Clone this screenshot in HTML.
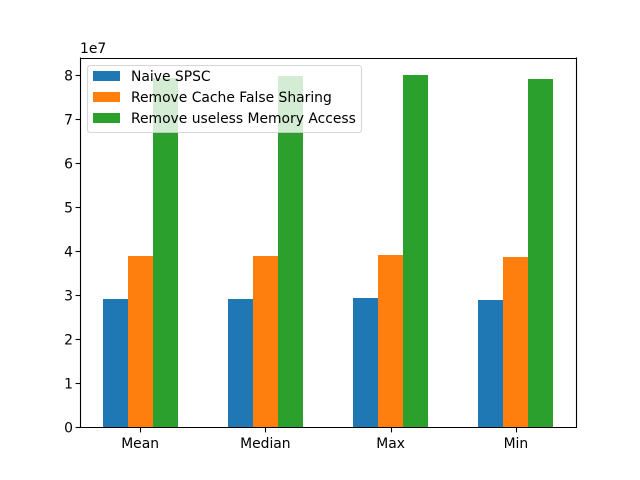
<!DOCTYPE html>
<html>
<head>
<meta charset="utf-8">
<title>Bar chart</title>
<style>
html,body{margin:0;padding:0;background:#fff;width:640px;height:480px;overflow:hidden}
svg{display:block}
text{font-family:"DejaVu Sans",sans-serif;font-size:13.89px;fill:#000}
</style>
</head>
<body>
<svg id="chart" width="640" height="480" viewBox="0 0 640 480" xmlns="http://www.w3.org/2000/svg"></svg>
<script>
const categories = ["Mean", "Median", "Max", "Min"];
const seriesNames = ["Naive SPSC", "Remove Cache False Sharing", "Remove useless Memory Access"];
const naiveSpsc = [29150000, 29150000, 29400000, 28950000];
const removeCacheFalseSharing = [38900000, 38900000, 39200000, 38700000];
const removeUselessMemoryAccess = [79400000, 79800000, 80000000, 79200000];
const yTicks = [0, 1, 2, 3, 4, 5, 6, 7, 8];
const yExponentLabel = "1e7";

const svg = document.getElementById('chart');
const NS = 'http://www.w3.org/2000/svg';
const plot = {left: 80, right: 576, top: 57.6, bottom: 427.2};
const seriesValues = [naiveSpsc, removeCacheFalseSharing, removeUselessMemoryAccess];
const colors = ['#1f77b4', '#ff7f0e', '#2ca02c'];
const barWidth = 0.2;
const yUnit = 1e7;
const allValues = seriesValues.flat();
const yMax = Math.max.apply(null, allValues) * 1.05;
const xMin = -0.48;
const xMax = categories.length - 1 + 0.48;

function xScale(v) {
  return plot.left + (v - xMin) / (xMax - xMin) * (plot.right - plot.left);
}
function yScale(v) {
  return plot.bottom - v / yMax * (plot.bottom - plot.top);
}
function el(tag, attrs, parent) {
  const node = document.createElementNS(NS, tag);
  for (const k in attrs) node.setAttribute(k, attrs[k]);
  (parent || svg).appendChild(node);
  return node;
}

const bg = el('rect', {x: 0, y: 0, width: 640, height: 480, fill: '#fff'});



const seriesGroupNames = ['naive-spsc', 'remove-cache-false-sharing', 'remove-useless-memory-access'];
seriesValues.forEach(function (values, s) {
  const group = el('g', {});
  
  
  values.forEach(function (value, c) {
    const center = c + (s - 1) * barWidth;
    const x0 = Math.round(xScale(center - barWidth / 2));
    const x1 = Math.round(xScale(center + barWidth / 2));
    const yTop = Math.round(yScale(value));
    const yBase = Math.round(yScale(0));
    const bar = el('rect', {x: x0, y: yTop, width: x1 - x0, height: yBase - yTop, fill: colors[s]}, group);
    
    
  });
});

const spines = [
  ['spine-left', 80.5, 57.5, 80.5, 427.5],
  ['spine-right', 576.5, 57.5, 576.5, 427.5],
  ['spine-top', 80, 58.5, 577, 58.5],
  ['spine-bottom', 80, 427.5, 577, 427.5]
];
spines.forEach(function (sp) {
  const line = el('line', {x1: sp[1], y1: sp[2], x2: sp[3], y2: sp[4], stroke: '#000', 'stroke-width': 1.1});
  
  
});

categories.forEach(function (cat, c) {
  const px = Math.round(xScale(c)) + 0.5;
  const tick = el('line', {x1: px, y1: 427.5, x2: px, y2: 432.4, stroke: '#000', 'stroke-width': 1.1});
  
  
  const label = el('text', {x: xScale(c), y: 448, 'text-anchor': 'middle'});
  label.textContent = cat;
  
  
});

yTicks.forEach(function (t) {
  const py = Math.round(yScale(t * yUnit)) + 0.5;
  const tick = el('line', {x1: 75.6, y1: py, x2: 80.5, y2: py, stroke: '#000', 'stroke-width': 1.1});
  
  
  const label = el('text', {x: 73, y: py + 4.8, 'text-anchor': 'end'});
  label.textContent = String(t);
  
  
});

const exponent = el('text', {x: 80, y: 53});
exponent.textContent = yExponentLabel;



const legend = el('g', {});


const legendBox = el('rect', {x: 87.5, y: 65.5, width: 274, height: 67, rx: 2.8, ry: 2.8, fill: '#fff', 'fill-opacity': 0.8, stroke: '#ccc', 'stroke-opacity': 0.8, 'stroke-width': 1.1}, legend);


seriesNames.forEach(function (name, s) {
  const entry = el('g', {}, legend);
  
  
  const rowTop = 71 + s * 21;
  const swatch = el('rect', {x: 93, y: rowTop, width: 27, height: 10, fill: colors[s]}, entry);
  
  
  const label = el('text', {x: 131, y: rowTop + 10, fill: '#000'}, entry);
  label.textContent = name;
  
  
});
</script>
</body>
</html>
